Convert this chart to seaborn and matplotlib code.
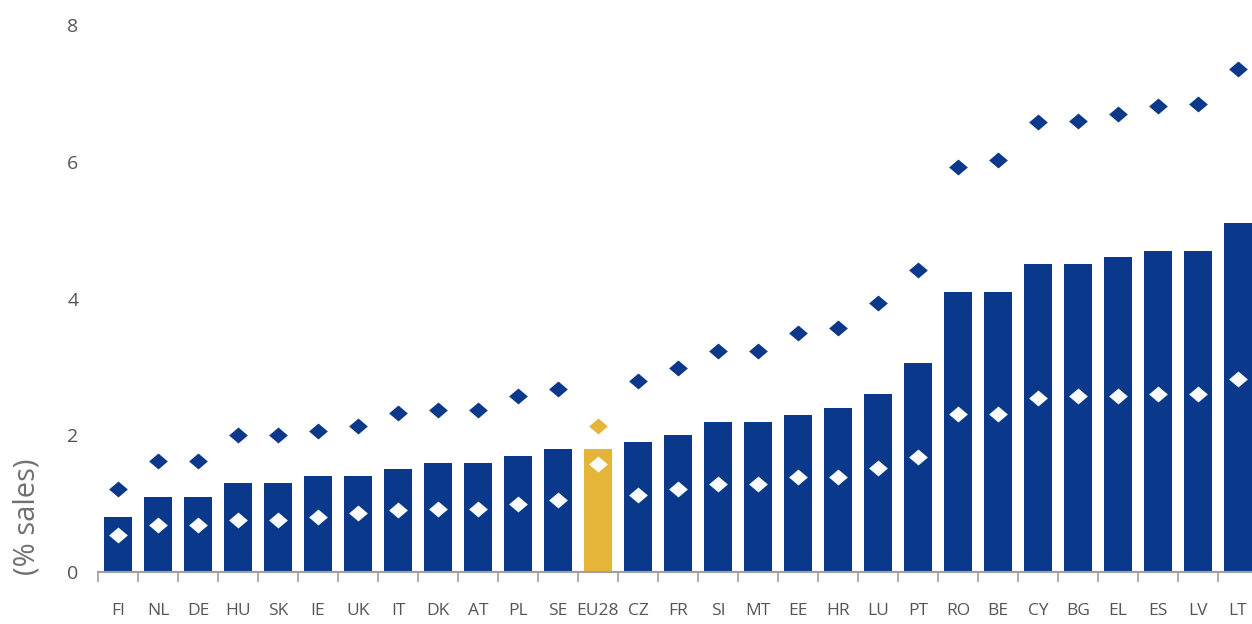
import numpy as np
import pandas as pd
import matplotlib
matplotlib.use("Agg")
import matplotlib.pyplot as plt
import seaborn as sns
from matplotlib.path import Path
from matplotlib.ticker import FixedLocator

countries = ["FI", "NL", "DE", "HU", "SK", "IE", "UK", "IT", "DK", "AT", "PL", "SE", "EU28",
             "CZ", "FR", "SI", "MT", "EE", "HR", "LU", "PT", "RO", "BE", "CY", "BG", "EL",
             "ES", "LV", "LT"]
bar_values = [0.8, 1.1, 1.1, 1.3, 1.3, 1.4, 1.4, 1.5, 1.6, 1.6, 1.7, 1.8, 1.8,
              1.9, 2.0, 2.2, 2.2, 2.3, 2.4, 2.6, 3.05, 4.1, 4.1, 4.5, 4.5, 4.6,
              4.7, 4.7, 5.1]
upper_values = [1.22, 1.63, 1.63, 2.0, 2.0, 2.06, 2.14, 2.32, 2.37, 2.37, 2.58, 2.68, 2.13,
                2.8, 2.98, 3.23, 3.23, 3.5, 3.57, 3.94, 4.42, 5.92, 6.03, 6.58, 6.6, 6.7,
                6.81, 6.84, 7.35]
lower_values = [0.54, 0.69, 0.69, 0.76, 0.76, 0.8, 0.87, 0.9, 0.92, 0.92, 1.0, 1.06, 1.58,
                1.12, 1.21, 1.29, 1.29, 1.39, 1.39, 1.52, 1.68, 2.31, 2.31, 2.55, 2.57, 2.57,
                2.61, 2.61, 2.82]
y_ticks = [0, 2, 4, 6, 8]

NAVY = "#0a398c"
GOLD = "#e5b53a"
highlight = "EU28"

df = pd.DataFrame({"country": countries, "bar": bar_values,
                   "upper": upper_values, "lower": lower_values})

bar_pal = {c: (GOLD if c == highlight else NAVY) for c in countries}
upper_pal = {c: (GOLD if c == highlight else NAVY) for c in countries}
lower_pal = {c: "white" for c in countries}

sns.set_style("white")
plt.rcParams["font.family"] = ["Open Sans", "DejaVu Sans"]

fig = plt.figure(figsize=(12.52, 6.24), dpi=100)
ax = fig.add_axes([98 / 1252, 1 - 572 / 624, 1 - 98 / 1252, (572 - 25) / 624])

sns.barplot(data=df, x="country", y="bar", hue="country", palette=bar_pal,
            order=countries, hue_order=countries, legend=False, width=0.72,
            saturation=1, ax=ax, linewidth=0)

diamond = Path([(-1, 0), (0, 0.85), (1, 0), (0, -0.85), (-1, 0)],
               [Path.MOVETO, Path.LINETO, Path.LINETO, Path.LINETO, Path.CLOSEPOLY])

sns.stripplot(data=df, x="country", y="upper", hue="country", palette=upper_pal,
              order=countries, hue_order=countries, legend=False, jitter=False,
              marker=diamond, size=13.5, linewidth=0, ax=ax, zorder=5)
sns.stripplot(data=df, x="country", y="lower", hue="country", palette=lower_pal,
              order=countries, hue_order=countries, legend=False, jitter=False,
              marker=diamond, size=13.5, linewidth=0, ax=ax, zorder=5)

ax.set_xlim(-0.5, 28.35)
ax.set_ylim(0, 8)
ax.set_yticks(y_ticks)
ax.set_yticklabels([str(t) for t in y_ticks])
ax.set_xlabel("")
ax.set_ylabel("")

for s in ["top", "right", "left"]:
    ax.spines[s].set_visible(False)
ax.spines["bottom"].set_color("#a0a0a0")
ax.spines["bottom"].set_linewidth(1.5)
ax.spines["bottom"].set_zorder(6)

ax.xaxis.set_minor_locator(FixedLocator(np.arange(-0.5, len(countries), 1.0)))
ax.tick_params(axis="x", which="major", bottom=True, length=0, pad=22,
               labelsize=12.5, labelcolor="#555555")
ax.tick_params(axis="x", which="minor", bottom=True, length=7, width=1.2,
               color="#a0a0a0", direction="out")
ax.tick_params(axis="y", which="major", left=False, length=0, pad=14,
               labelsize=14, labelcolor="#555555")

fig.text(27 / 1252, 1 - 517 / 624, "(% sales)", rotation=90, ha="center", va="center",
         fontsize=21, color="#707070")

fig.savefig("out.png", dpi=100)
